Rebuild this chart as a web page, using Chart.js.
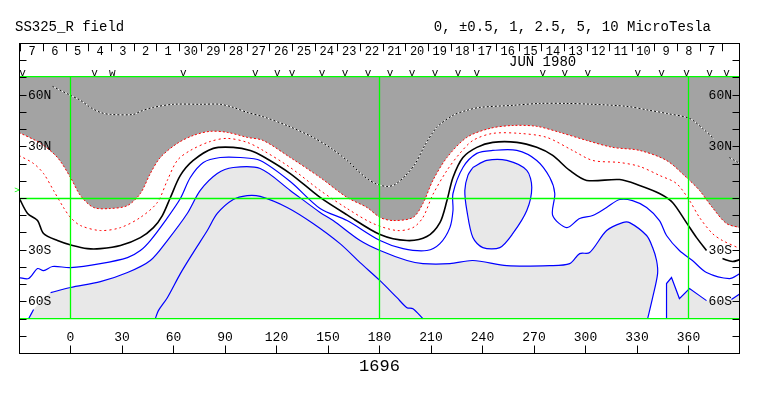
<!DOCTYPE html>
<html>
<head>
<meta charset="utf-8">
<script src="https://cdn.jsdelivr.net/npm/chart.js@4.4.1/dist/chart.umd.min.js"></script>
<style>
  html, body { margin: 0; padding: 0; background: #fff; }
</style>
</head>
<body>
<canvas id="map" width="763" height="396"></canvas>
<script>
// axis limits (degrees)
const lonMin = -30, lonMax = 390;
const latMin = -90, latMax = 90;
const latTop = 70.8, latBottom = -69.7;

const lonTicks = [0, 30, 60, 90, 120, 150, 180, 210, 240, 270, 300, 330, 360];
const latTicks = [-80, -70, -60, -50, -40, -30, -20, -10, 0, 10, 20, 30, 40, 50, 60, 70, 80];
const latLabelVals = [60, 30, -30, -60];
const latLabelText = ['60N', '30N', '30S', '60S'];
const gridLon = [0, 180, 360];

// date strip along the top
const dayLabels = ['7','6','5','4','3','2','1','30','29','28','27','26','25','24','23','22',
  '21','20','19','18','17','16','15','14','13','12','11','10','9','8','7'];
const dayLon = [-22.3, -9.1, 4.1, 17.3, 30.5, 43.7, 56.8, 70.0, 83.2, 96.4, 109.6, 122.8, 136.0,
  149.2, 162.4, 175.6, 188.7, 201.9, 215.1, 228.3, 241.5, 254.7, 267.9, 281.1, 294.3, 307.5,
  320.6, 333.8, 347.0, 360.2, 373.4];
const dayTickLon = [-28.9, -15.7, -2.5, 10.7, 23.9, 37.1, 50.3, 63.5, 76.6, 89.8, 103.0, 116.2,
  129.4, 142.6, 155.8, 169.0, 182.2, 195.3, 208.5, 221.7, 234.9, 248.1, 261.3, 274.5, 287.7,
  300.9, 314.1, 327.2, 340.4, 353.6, 366.8, 380.0];
const markLon = [-28, 14.0, 24.4, 65.7, 107.6, 120.4, 129.1, 146.6, 159.9, 173.3, 186.1, 198.9,
  212.3, 225.7, 236.7, 275.1, 287.9, 301.3, 330.4, 344.3, 358.8, 372.2, 382.1];
const markText = ['v','v','w','v','v','v','v','v','v','v','v','v','v','v','v','v','v','v','v','v','v','v','v'];

// contours (lon, lat); null = gap behind a label
const dotLon = [-10.5, 0, 5.8, 11.6, 17.4, 23.3, 36.6, 40.7, 48.3, 59.9, 75.6, 87.2, 94.8, 102.9,
  112.2, 127.0, 141.3, 152.0, 161.1, 167.0, 172.7, 178.0, 184.3, 189.0, 194.8, 200.7, 206.5,
  213.4, 222.8, 230.9, 238.5, 257.7, 273.4, 289.1, 304.2, 324.0, 337.3, 347.2, 360.6, 368.2,
  374.5, 379, 383.8, 390];
const dotLat = [65.1, 59.9, 57.0, 52.9, 50.0, 48.8, 48.8, 50.6, 52.9, 54.7, 54.7, 54.7, 52.9, 50.0,
  47.5, 42.0, 35.5, 29.0, 22.1, 16.5, 11.6, 8.5, 7.0, 8.1, 13.0, 20.0, 31.0, 41.3, 48.3, 51.2,
  52.9, 54.1, 55.2, 55.2, 54.7, 53.5, 51.2, 49.4, 46.5, 40.7, 34.9, null, 23.8, 20.3];

const red1Lon = [-30, -17.4, -7.6, 0, 5.8, 13.4, 23.3, 33.2, 40.7, 46.5, 52.3, 62.2, 71.5, 81.4,
  91.3, 102.9, 112.2, 128.0, 145.4, 161.1, 172.7, 180.3, 187.9, 199.5, 205.3, 211.1, 219.3,
  230.9, 244.3, 257.7, 271.6, 285.0, 300.7, 315.8, 331.5, 347.2, 358.8, 366.4, 373.9, 382.1, 390];
const red1Lat = [38.3, 32.0, 23.8, 12.2, 1.7, -5.2, -5.8, -4.1, 2.9, 14.5, 23.8, 32.0, 36.6, 39.0,
  38.4, 35.5, 33.7, 23.8, 12.2, 0.6, -5.2, -11.0, -12.8, -11.0, -2.9, 10.5, 23.8, 35.5, 40.7,
  42.4, 41.9, 38.4, 33.7, 29.7, 27.9, 22.1, 12.2, 4.7, -5.2, -14.5, -16.9];

const red2Lon = [-30, -21.5, -15.7, -9.9, -4.1, 0, 5.8, 17.4, 29.1, 40.7, 50.6, 56.4, 62.2, 69.8,
  81.4, 91.3, 102.9, 112.2, 128.0, 145.4, 161.1, 176.2, 190.2, 199.5, 205.3, 211.1, 219.3, 226.8,
  234.4, 246.0, 261.7, 277.4, 292.5, 304.2, 319.9, 331.5, 343.1, 353.0, 360.6, 366.4, 373.9,
  379.8, 390];
const red2Lat = [25.0, 20.3, 14.5, 4.7, -5.2, -11.0, -15.7, -18.6, -16.9, -11.0, -2.3, 10.5, 22.1,
  27.9, 33.1, 34.9, 32.6, 27.9, 18.0, 4.7, -5.8, -14.5, -18.6, -16.9, -11.0, 2.3, 16.3, 26.2,
  33.7, 37.8, 37.8, 35.5, 27.9, 22.1, 20.9, 18.6, 13.4, 8.7, -1.2, -11.0, -20.3, -24.4, -29.1];

const blackLon = [-30, -25.0, -19.2, -15.7, -7.6, 1.2, 9.9, 17.4, 29.1, 40.7, 48.3, 53.5, 58.2,
  64.0, 71.5, 83.2, 94.8, 104.7, 112.2, 128.0, 145.4, 161.1, 180.3, 196.0, 207.6, 215.2, 219.3,
  222.8, 228.6, 236.7, 246.0, 260.0, 271.6, 280.9, 290.8, 300.7, 319.9, 331.5, 343.1, 350.7,
  358.8, 364.7, 370.5, 375, 379.8, 385.6, 390];
const blackLat = [0.5, -8.7, -12.8, -20.3, -24.4, -27.3, -29.1, -29.1, -27.3, -22.7, -16.9, -9.9,
  0.6, 13.4, 22.1, 29.1, 29.7, 27.9, 24.4, 14.5, 0.6, -9.5, -20.9, -24.4, -22.1, -14.0, -1.2,
  12.2, 23.8, 29.7, 32.6, 32.6, 29.7, 25.0, 16.3, 10.5, 11.0, 7.6, 2.9, -2.3, -14.0, -22.7,
  -30.2, null, -34.9, -36.6, -35.5];

const blue1Lon = [-30, -24.4, -19.2, -15.7, -10.5, 0, 17.4, 33.2, 40.7, 46.5, 55.3, 64.0, 69.8,
  77.4, 87.2, 98.9, 110.5, 128.0, 145.4, 161.1, 180.3, 193.7, 207.6, 215.2, 221.0, 222.8, 222.8,
  228.6, 236.7, 246.0, 260.0, 271.6, 279.2, 282.1, 280.9, 289.1, 296.6, 304.2, 312.3, 319.9,
  327.4, 335.6, 343.1, 347.2, 354.7, 362.3, 370.5, 383.8, 390];
const blue1Lat = [-45.9, -46.5, -40.7, -41.9, -39.5, -40.1, -37.8, -34.3, -30.2, -24.4, -12.8, 0,
  12.2, 20.9, 23.8, 23.8, 22.1, 9.9, -5.8, -12.8, -24.4, -29.1, -30.2, -26.2, -16.9, -7.0, 2.9,
  18.0, 26.2, 27.9, 27.9, 22.1, 12.2, 2.9, -9.9, -16.9, -11.6, -9.9, -5.2, -0.6, -1.2, -5.2,
  -12.8, -21.5, -30.2, -36.0, -43.0, -46.5, -43.6];

const blue2Lon = [-24.4, -21.5, -16, -11.6, 0, 17.4, 33.2, 46.5, 56.4, 68.0, 75.6, 85.5, 94.8,
  110.5, 128.0, 145.4, 153.0, 168.7, 180.3, 196.0, 205.3, 221.0, 234.4, 254.2, 279.2, 290.8,
  296.6, 302.4, 312.3, 321.6, 325.7, 335.6, 339.1, 341.4, 342.0, 339.1, 336.2];
const blue2Lat = [-69.8, -64.5, null, -54.7, -51.7, -48.3, -43.0, -36.0, -24.4, -8.7, 4.7, 14.5,
  18.0, 17.4, 4.7, -8.1, -12.8, -24.4, -30.2, -36.0, -37.8, -37.8, -36.0, -39.0, -39.0, -37.8,
  -32.0, -31.4, -18.6, -14.0, -14.0, -21.5, -28.5, -36.0, -43.6, -57.6, -69.8];

const blue3Lon = [49.4, 51.2, 56.4, 64.0, 71.5, 79.7, 85.5, 94.8, 102.9, 110.5, 126.2, 141.3,
  157.0, 168.7, 180.3, 190.2, 196.0, 199.5, 205.3];
const blue3Lat = [-69.8, -65.1, -57.6, -43.6, -31.4, -18.6, -8.7, -0.6, 1.7, 1.2, -5.2, -14.5,
  -26.2, -37.2, -47.7, -57.6, -63.4, -64.0, -69.8];

const blue4Lon = [347.2, 347.2, 350.1, 354.7, 360.6, 366.4, 370.5, 378, 385.0, 390];
const blue4Lat = [-70, -49.4, -45.9, -58.1, -52.3, -56.4, -59.3, null, -58.7, -55.3];

const blobLon = [234.4, 242.5, 254.2, 265.8, 268.7, 265.8, 257.7, 250.1, 240.2, 234.4, 230.9, 229.7, 231.5, 234.4];
const blobLat = [18.0, 22.1, 22.1, 16.3, 6.4, -7.0, -20.3, -28.5, -28.5, -22.7, -7.0, 4.7, 13.4, 18.0];

const darkGray = '#a3a3a3';
const lightGray = '#e8e8e8';
const green = '#00ff00';
const mono = '"Liberation Mono", "DejaVu Sans Mono", monospace';
const smooth = 0.3;

function pts(lons, lats) {
  return lons.map((x, i) => ({ x: x, y: lats[i] }));
}
function solid(lons, lats) {
  return pts(lons, lats).filter(p => p.y !== null);
}

function area(data, color, order, tension) {
  return { data: data, fill: 'shape', backgroundColor: color, borderWidth: 0,
    pointRadius: 0, tension: tension, order: order };
}
function contour(data, color, width, dash, order, tension) {
  return { data: data, fill: false, borderColor: color, borderWidth: width,
    borderDash: dash || [], pointRadius: 0, spanGaps: false, tension: tension || 0, order: order };
}

// closing corners sit just outside the plot so the curves stay clean at the edges
const darkPoly = solid(red1Lon, red1Lat).concat([
  { x: lonMax + 10, y: -16.9 }, { x: lonMax + 10, y: latTop }, { x: lonMax, y: latTop },
  { x: lonMin, y: latTop }, { x: lonMin - 10, y: latTop }, { x: lonMin - 10, y: 38.3 }]);
const lightPoly = solid(blue2Lon, blue2Lat);
const lightPoly2 = solid(blue4Lon, blue4Lat).concat([
  { x: lonMax + 10, y: -55.3 }, { x: lonMax + 10, y: latBottom }]);

const datasets = [
  area(darkPoly, darkGray, 20, smooth),
  area(lightPoly, lightGray, 19, smooth),
  area(lightPoly2, lightGray, 19, 0),
  area(solid(blobLon, blobLat), lightGray, 19, smooth),
  contour(pts(dotLon, dotLat), '#ffffff', 1, null, 6, smooth),
  contour(pts(dotLon, dotLat), '#000000', 1, [2, 2], 5, smooth),
  contour(pts(red1Lon, red1Lat), '#ff0000', 1, [2, 2], 5, smooth),
  contour(pts(red2Lon, red2Lat), '#ff0000', 1, [2, 3], 5, smooth),
  contour(pts(blackLon, blackLat), '#000000', 1.6, null, 5, smooth),
  contour(pts(blue1Lon, blue1Lat), '#0000ff', 1.2, null, 5, smooth),
  contour(pts(blue2Lon, blue2Lat), '#0000ff', 1.2, null, 5, smooth),
  contour(pts(blue3Lon, blue3Lat), '#0000ff', 1.2, null, 5, smooth),
  contour(pts(blue4Lon, blue4Lat), '#0000ff', 1.2, null, 5, 0),
  contour(pts(blobLon, blobLat), '#0000ff', 1.2, null, 5, smooth),
  // reference grid
  contour([{ x: lonMin, y: 0 }, { x: lonMax, y: 0 }], green, 1.3, null, 1),
  contour([{ x: lonMin, y: latTop }, { x: lonMax, y: latTop }], green, 1.3, null, 1),
  contour([{ x: lonMin, y: latBottom }, { x: lonMax, y: latBottom }], green, 1.3, null, 1)
].concat(gridLon.map(v => contour([{ x: v, y: latBottom }, { x: v, y: latTop }], green, 1.3, null, 1)));

const frame = {
  id: 'frame',
  afterDraw(chart) {
    const { ctx, chartArea: a, scales: { x, y } } = chart;
    const L = Math.round(a.left) + 0.5, R = Math.round(a.right) - 0.5;
    const T = Math.floor(a.top) + 0.5, B = Math.floor(a.bottom) + 0.5;
    ctx.save();
    ctx.strokeStyle = '#000';
    ctx.fillStyle = '#000';
    ctx.lineWidth = 1;
    ctx.strokeRect(L, T, R - L, B - T);

    ctx.beginPath();
    latTicks.forEach(v => {
      const py = Math.floor(y.getPixelForValue(v)) + 0.5;
      ctx.moveTo(L, py); ctx.lineTo(L + 7, py);
      ctx.moveTo(R - 7, py); ctx.lineTo(R, py);
    });
    lonTicks.forEach(v => {
      const px = Math.floor(x.getPixelForValue(v)) + 0.5;
      ctx.moveTo(px, B); ctx.lineTo(px, B - 8);
    });
    dayTickLon.forEach(v => {
      const px = Math.floor(x.getPixelForValue(v)) + 0.5;
      ctx.moveTo(px, T); ctx.lineTo(px, y.getPixelForValue(85.5));
    });
    ctx.stroke();

    ctx.textBaseline = 'middle';
    ctx.font = '13px ' + mono;
    latLabelVals.forEach((v, i) => {
      const py = y.getPixelForValue(v);
      ctx.textAlign = 'left';
      ctx.fillText(latLabelText[i], L + 8.5, py);
      ctx.textAlign = 'right';
      ctx.fillText(latLabelText[i], R - 7.5, py);
    });
    ctx.textAlign = 'center';
    lonTicks.forEach(v => ctx.fillText(String(v), x.getPixelForValue(v), y.getPixelForValue(-81)));

    ctx.font = '12px ' + mono;
    dayLabels.forEach((t, i) => ctx.fillText(t, x.getPixelForValue(dayLon[i]), y.getPixelForValue(85.4)));
    ctx.font = '11px ' + mono;
    markText.forEach((t, i) => ctx.fillText(t, x.getPixelForValue(markLon[i]), y.getPixelForValue(72.8)));
    ctx.font = '14px ' + mono;
    ctx.fillText('JUN 1980', x.getPixelForValue(275), y.getPixelForValue(78.8));

    ctx.textAlign = 'left';
    ctx.fillText('SS325_R field', 15, 27);
    ctx.textAlign = 'right';
    ctx.fillText('0, \u00b10.5, 1, 2.5, 5, 10 MicroTesla', 711, 27);

    ctx.textAlign = 'center';
    ctx.font = '17px ' + mono;
    ctx.fillText('1696', x.getPixelForValue(180), 366);

    ctx.fillStyle = green;
    ctx.font = '9px ' + mono;
    ctx.fillText('>', L - 2.5, y.getPixelForValue(4.5));
    ctx.restore();
  }
};

new Chart(document.getElementById('map'), {
  type: 'line',
  data: { datasets: datasets },
  options: {
    responsive: false,
    animation: false,
    events: [],
    layout: { padding: { left: 19, right: 23, top: 43.5, bottom: 42.5 } },
    plugins: { legend: { display: false }, tooltip: { enabled: false } },
    scales: {
      x: { type: 'linear', min: lonMin, max: lonMax, display: false },
      y: { type: 'linear', min: latMin, max: latMax, display: false }
    }
  },
  plugins: [frame]
});
</script>
</body>
</html>
